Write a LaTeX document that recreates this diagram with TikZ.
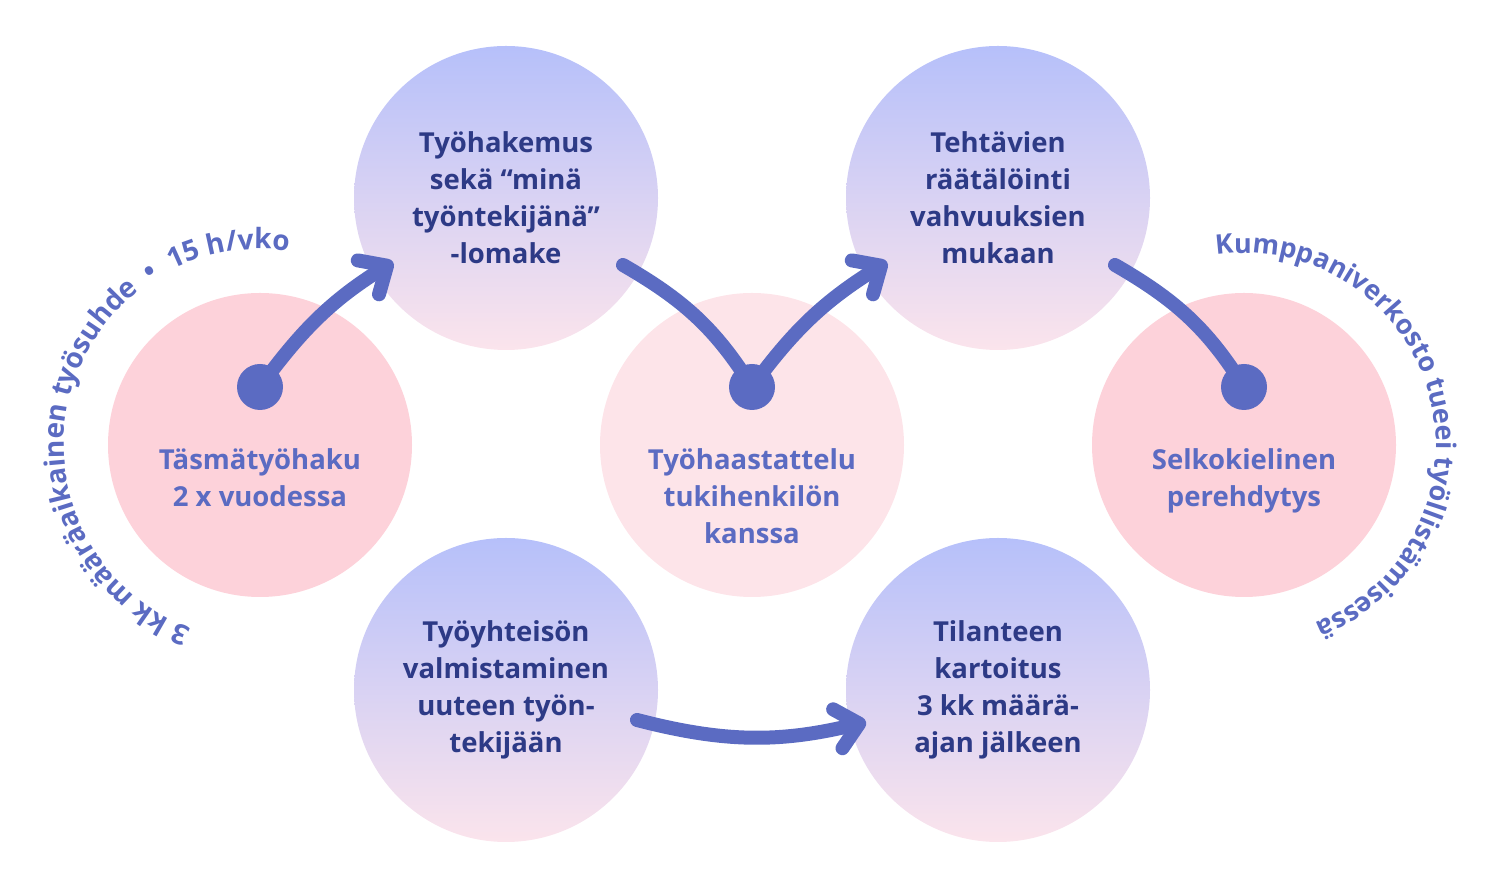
\documentclass[tikz,border=0pt]{standalone}
\usepackage{fontspec}
\setmainfont{Open Sans}
\usetikzlibrary{arrows.meta,calc,decorations.text,positioning}

\definecolor{accent}{HTML}{5B6BC2}
\definecolor{navy}{HTML}{2D3A86}
\definecolor{rosa}{HTML}{FDD2DA}
\definecolor{rosalight}{HTML}{FDE4E9}
\definecolor{lilatop}{HTML}{B6C0FA}
\definecolor{lilabot}{HTML}{FBE4EC}

\newcommand\stepfont{\fontsize{27.5}{37}\selectfont\bfseries}
\newcommand\arcfont[1]{\fontsize{#1}{30}\selectfont\bfseries\color{accent}}

\tikzset{
	bluecirc/.style={circle, minimum size=304pt, inner sep=0pt, top color=lilatop, bottom color=lilabot, text=navy, align=center, font=\stepfont},
	pinkcirc/.style={circle, minimum size=304pt, inner sep=0pt, fill=#1},
	pinktext/.style={anchor=north, inner sep=0pt, text=accent, align=center, font=\stepfont},
	trail/.style={line width=14pt, draw=accent, line cap=round},
	flow/.style={trail, -{Straight Barb[length=22pt, width=40pt, round]}},
	arctext/.style 2 args={decorate, decoration={text along path, text align=center, text={|\arcfont{#1}|#2}}},
}

\begin{document}
	\begin{tikzpicture}[x=1pt, y=1pt]
		%%%%% START %%%%%
		\useasboundingbox (0, 0) rectangle (1500, 891);
		
		\node[pinkcirc=rosa] (haku) at (260, 446) {};
		\node[pinkcirc=rosalight] (haast) at (752, 446) {};
		\node[pinkcirc=rosa] (selko) at (1244, 446) {};
		
		\node[bluecirc] (hakemus) at (506, 693) {Työhakemus\\sekä “minä\\työntekijänä”\\-lomake};
		\node[bluecirc] (tehtavat) at (998, 693) {Tehtävien\\räätälöinti\\vahvuuksien\\mukaan};
		\node[bluecirc] (yhteiso) at (506, 201) {Työyhteisön\\valmistaminen\\uuteen työn-\\tekijään};
		\node[bluecirc] (tilanne) at (998, 201) {Tilanteen\\kartoitus\\3 kk määrä-\\ajan jälkeen};
		
		\node[pinktext] (haku-t) at ([yshift=-3pt]haku.center) {Täsmätyöhaku\\2 x vuodessa};
		\node[pinktext] (haast-t) at ([yshift=-3pt]haast.center) {Työhaastattelu\\tukihenkilön\\kanssa};
		\node[pinktext] (selko-t) at ([yshift=-3pt]selko.center) {Selkokielinen\\perehdytys};
		
		% texts round the outer circles
		\path[arctext={28}{3 kk määräaikainen työsuhde {\kern7pt•\kern7pt} 15 h/vko}] ($(haku.center)+(270:196)$) arc[start angle=270, end angle=61, radius=196];
		\path[arctext={27}{Kumppaniverkosto tueei työllistämisessä}] ($(selko.center)+(123:192)$) arc[start angle=123, end angle=-93, radius=192];
		
		% dots and arrows
		\coordinate (haku-dot) at (260, 504);
		\coordinate (haast-dot) at (752, 504);
		\coordinate (selko-dot) at (1244, 504);
		\coordinate (hakemus-in) at (393, 629);
		\coordinate (hakemus-out) at (623, 626);
		\coordinate (tehtavat-in) at (887, 629);
		\coordinate (tehtavat-out) at (1115, 626);
		\coordinate (yhteiso-out) at (637, 171);
		\coordinate (tilanne-in) at (866, 169);
		
		\draw[flow] (haku-dot) to[out=54, in=212] (hakemus-in);
		\draw[trail] (hakemus-out) to[out=-30, in=122] (haast-dot);
		\draw[flow] (haast-dot) to[out=54, in=212] (tehtavat-in);
		\draw[trail] (tehtavat-out) to[out=-30, in=122] (selko-dot);
		\draw[flow] (yhteiso-out) to[bend right=14] (tilanne-in);
		
		\fill[accent] (haku-dot) circle (23);
		\fill[accent] (haast-dot) circle (23);
		\fill[accent] (selko-dot) circle (23);
		
		%%%%% END %%%%%
	\end{tikzpicture}
\end{document}
